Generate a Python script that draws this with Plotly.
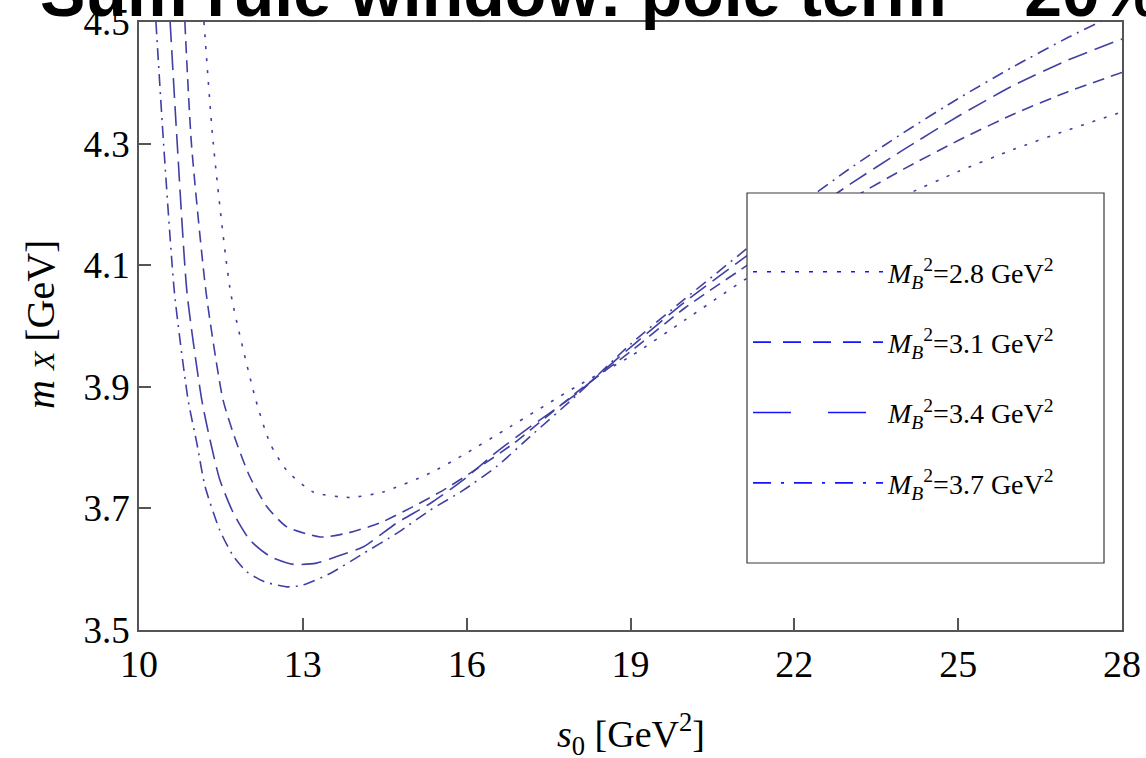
import plotly.graph_objects as go

# ---- data ----
s_37 = [10.31, 10.45, 10.65, 10.90, 11.06, 11.21, 11.48, 11.73, 11.97, 12.28, 12.70, 13.00, 13.50,
        14.11, 14.72, 15.33, 15.94, 16.55, 17.16, 18.0, 19.0, 20.0, 21.14, 22.0, 23.0, 24.0,
        25.0, 26.0, 27.0, 27.66, 28.0]
m_37 = [4.500, 4.300, 4.054, 3.878, 3.807, 3.736, 3.664, 3.621, 3.596, 3.580, 3.571, 3.574, 3.593,
        3.626, 3.659, 3.697, 3.730, 3.769, 3.818, 3.885, 3.970, 4.045, 4.128, 4.192, 4.258, 4.318,
        4.374, 4.426, 4.474, 4.503, 4.518]

s_34 = [10.57, 10.70, 10.88, 11.15, 11.30, 11.48, 11.73, 12.03, 12.40, 12.83, 13.25, 13.62, 14.11,
        14.72, 15.33, 15.94, 16.55, 17.16, 18.0, 19.0, 20.0, 21.14, 22.0, 23.0, 24.0, 25.0, 26.0,
        27.0, 28.0]
m_34 = [4.500, 4.300, 4.054, 3.878, 3.813, 3.747, 3.692, 3.648, 3.621, 3.608, 3.610, 3.621, 3.637,
        3.676, 3.708, 3.747, 3.793, 3.834, 3.888, 3.965, 4.040, 4.116, 4.170, 4.232, 4.290, 4.345,
        4.395, 4.437, 4.472]

s_31 = [10.84, 10.96, 11.23, 11.54, 11.79, 12.03, 12.34, 12.70, 13.32, 13.80, 14.41, 15.02, 15.63,
        16.25, 16.86, 18.0, 19.0, 20.0, 21.14, 22.0, 23.0, 24.0, 25.0, 26.0, 27.0, 28.0]
m_31 = [4.500, 4.300, 4.054, 3.878, 3.807, 3.752, 3.703, 3.670, 3.653, 3.659, 3.676, 3.703, 3.733,
        3.769, 3.807, 3.890, 3.958, 4.030, 4.100, 4.152, 4.207, 4.258, 4.305, 4.348, 4.385, 4.417]

s_28 = [11.19, 11.36, 11.68, 12.14, 12.40, 12.70, 13.19, 13.86, 14.47, 15.33, 15.94, 16.79, 18.0,
        19.0, 20.0, 21.14, 22.0, 23.0, 24.0, 25.0, 26.0, 27.0, 28.0]
m_28 = [4.500, 4.300, 4.054, 3.878, 3.807, 3.763, 3.727, 3.718, 3.727, 3.758, 3.788, 3.834, 3.900,
        3.950, 4.010, 4.079, 4.125, 4.172, 4.214, 4.254, 4.290, 4.322, 4.352]

legend_names = ["<i>M</i><sub><i>B</i></sub><sup>2</sup>=2.8 GeV<sup>2</sup>",
                "<i>M</i><sub><i>B</i></sub><sup>2</sup>=3.1 GeV<sup>2</sup>",
                "<i>M</i><sub><i>B</i></sub><sup>2</sup>=3.4 GeV<sup>2</sup>",
                "<i>M</i><sub><i>B</i></sub><sup>2</sup>=3.7 GeV<sup>2</sup>"]

x_ticks = [10, 13, 16, 19, 22, 25, 28]
y_ticks = [3.5, 3.7, 3.9, 4.1, 4.3, 4.5]

title_text = "Sum rule window: pole term ~ 20%"
x_title = "<i>s</i><sub>0</sub> [GeV<sup>2</sup>]"
y_title = "<i>m</i> <span style='font-size:30px'><i>X</i></span> [GeV]"

curves = [(s_28, m_28), (s_31, m_31), (s_34, m_34), (s_37, m_37)]
plot_dash = ["3px,9px", "12px,7px", "20px,8px", "12px,6px,2px,6px"]
legend_dash = ["4px,10px", "18px,12px", "38px,37px", "18px,10px,3px,10px"]

CURVE_COLOR = "#4040a4"
LEG_COLOR = "#1414ff"
SERIF = "Liberation Serif"

fig = go.Figure()
for (xs, ys), d in zip(curves, plot_dash):
    fig.add_trace(go.Scatter(x=xs, y=ys, mode="lines", showlegend=False,
                             line=dict(color=CURVE_COLOR, width=1.6, dash=d, shape="spline", smoothing=0.6),
                             hoverinfo="skip"))
for i, (name, d) in enumerate(zip(legend_names, legend_dash)):
    fig.add_trace(go.Scatter(x=[None], y=[None], mode="lines", name=name,
                             legendgroup=f"g{i}",
                             line=dict(color=LEG_COLOR, width=1.6, dash=d)))

W, H = 1146, 758
L, R, T, B = 139, 24, 22, 128
pw, ph = W - L - R, H - T - B

def px_x(p):
    return (p - L) / pw

def px_y(p):
    return 1 - (p - T) / ph

# legend frame
fig.add_shape(type="rect", xref="paper", yref="paper",
              x0=px_x(747), x1=px_x(1104), y0=px_y(563), y1=px_y(193),
              fillcolor="white", line=dict(color="#3a3a3a", width=1.2), layer="above")

# clipped title at top
fig.add_annotation(text="<b>" + title_text + "</b>", xref="paper", yref="paper",
                   x=px_x(38), y=px_y(-8), xanchor="left", yanchor="middle", showarrow=False,
                   font=dict(family="Liberation Sans", size=68, color="black"))
# axis titles
fig.add_annotation(text=x_title, xref="paper", yref="paper", x=px_x(631), y=px_y(734),
                   xanchor="center", yanchor="middle", showarrow=False,
                   font=dict(family=SERIF, size=38, color="black"))
fig.add_annotation(text=y_title, xref="paper", yref="paper", x=px_x(40), y=px_y(325),
                   xanchor="center", yanchor="middle", showarrow=False, textangle=-90,
                   font=dict(family=SERIF, size=40, color="black"))

axis_common = dict(showgrid=False, zeroline=False, showline=True, mirror=True,
                   linecolor="#555555", linewidth=1.5, ticks="inside", ticklen=12,
                   tickwidth=1.5, tickcolor="#555555", automargin=False)

fig.update_layout(
    width=W, height=H,
    margin=dict(l=L, r=R, t=T, b=B, autoexpand=False),
    paper_bgcolor="white", plot_bgcolor="white",
    font=dict(family=SERIF, color="black"),
    legend=dict(x=px_x(748), y=px_y(247), xanchor="left", yanchor="top",
                bgcolor="rgba(0,0,0,0)", borderwidth=0,
                font=dict(family=SERIF, size=28, color="black"),
                itemwidth=130, tracegroupgap=31),
    xaxis=dict(range=[10, 28], tickvals=x_ticks, ticktext=[str(v) for v in x_ticks],
               tickfont=dict(family=SERIF, size=38, color="black"), **axis_common),
    yaxis=dict(range=[3.5, 4.5], tickvals=y_ticks, ticktext=[f"{v:.1f}" for v in y_ticks],
               tickfont=dict(family=SERIF, size=37, color="black"), **axis_common),
)

fig.write_html("out.html")
